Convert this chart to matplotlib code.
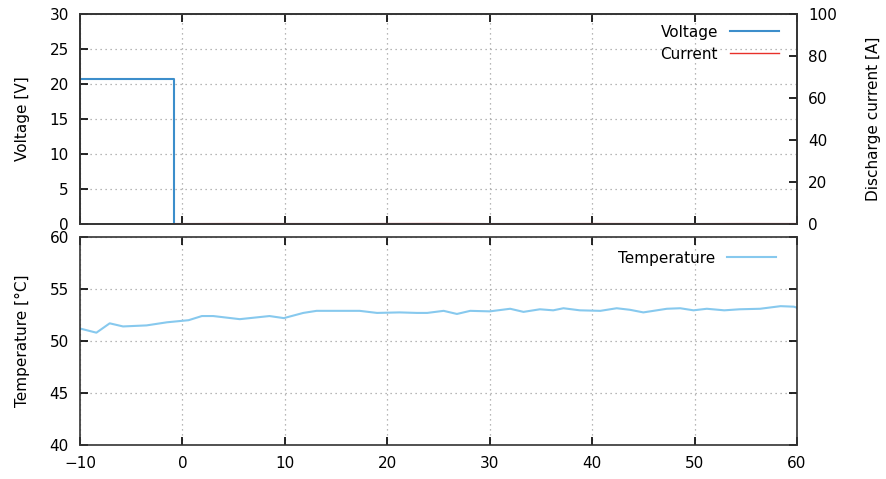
import matplotlib
matplotlib.use("Agg")
import matplotlib.pyplot as plt
from matplotlib.lines import Line2D

# voltage step (V)
volt_t = [-10, -0.85, -0.85, 60]
volt_v = [20.7, 20.7, 0.0, 0.0]

# discharge current (A), stays close to zero
curr_t = [-0.85, 5, 10, 15, 20, 25, 30, 35, 40, 45, 50, 55, 60]
curr_a = [0.2, 0.3, 0.25, 0.2, 0.3, 0.35, 0.2, 0.25, 0.3, 0.25, 0.2, 0.3, 0.25]

# temperature (degC)
temp_t = [-10, -8.4, -7.1, -5.8, -3.5, -1.5, 0.6, 1.9, 3.0, 5.6, 8.5, 9.9,
          11.8, 13.1, 17.3, 19.0, 21.2, 22.9, 23.9, 25.5, 26.8, 28.1, 30.0,
          32.0, 33.3, 34.9, 36.2, 37.2, 38.8, 40.8, 42.4, 43.7, 45.0, 47.3,
          48.6, 49.9, 51.2, 52.9, 54.4, 56.4, 58.4, 59.7, 60]
temp_c = [51.2, 50.8, 51.7, 51.4, 51.5, 51.8, 52.0, 52.4, 52.4, 52.1, 52.4, 52.2,
          52.7, 52.9, 52.9, 52.7, 52.75, 52.7, 52.7, 52.9, 52.6, 52.9, 52.85,
          53.1, 52.8, 53.05, 52.95, 53.15, 52.95, 52.9, 53.15, 53.0, 52.75, 53.1,
          53.15, 52.95, 53.1, 52.95, 53.05, 53.1, 53.35, 53.3, 53.2]

plt.rcParams['font.family'] = ['DejaVu Sans']
plt.rcParams['font.size'] = 11

fig = plt.figure(figsize=(8.87, 4.79), dpi=100)
ax1 = fig.add_axes([0.0902, 0.5324, 0.8083, 0.4384])
ax2 = ax1.twinx()
ax3 = fig.add_axes([0.0902, 0.0710, 0.8083, 0.4342])

grid_kw = dict(color='#a0a0a0', linestyle=(0, (1, 3)), linewidth=0.9)

# top panel
ax1.plot(volt_t, volt_v, color='#3c8ecb', linewidth=1.5)
ax2.plot(curr_t, curr_a, color='#e8312a', linewidth=0.8, alpha=0.4)
ax1.set_xlim(-10, 60)
ax1.set_ylim(0, 30)
ax2.set_ylim(0, 100)
ax1.set_yticks(range(0, 31, 5))
ax2.set_yticks(range(0, 101, 20))
ax1.set_xticks(range(-10, 61, 10))
ax1.set_xticklabels([])
ax1.grid(True, **grid_kw)
ax1.set_ylabel('Voltage [V]', labelpad=14)
ax2.set_ylabel('Discharge current [A]', labelpad=21)
ax1.tick_params(direction='in', top=True, length=6, width=1.2, pad=8)
ax2.tick_params(direction='in', length=6, width=1.2, pad=8)
handles = [Line2D([], [], color='#3c8ecb', linewidth=1.5),
           Line2D([], [], color='#e8312a', linewidth=1.0)]
ax1.legend(handles, ['Voltage', 'Current'], loc='upper right', frameon=False,
           markerfirst=False, handlelength=3.2, borderaxespad=0.3, labelspacing=0.45,
           bbox_to_anchor=(0.99, 1.0))

# bottom panel
ax3.plot(temp_t, temp_c, color='#87c9ee', linewidth=1.5, label='Temperature')
ax3.set_xlim(-10, 60)
ax3.set_ylim(40, 60)
ax3.set_yticks(range(40, 61, 5))
ax3.set_xticks(range(-10, 61, 10))
ax3.grid(True, **grid_kw)
ax3.set_ylabel('Temperature [°C]', labelpad=14)
ax3.tick_params(direction='in', top=True, right=True, length=6, width=1.2, pad=8)
ax3.legend(loc='upper right', frameon=False, markerfirst=False, handlelength=3.2,
           borderaxespad=0.5, bbox_to_anchor=(0.99, 1.0))

for a in (ax1, ax2, ax3):
    for s in a.spines.values():
        s.set_linewidth(1.2)
        s.set_color('#333333')

fig.savefig('out.png', dpi=100)
